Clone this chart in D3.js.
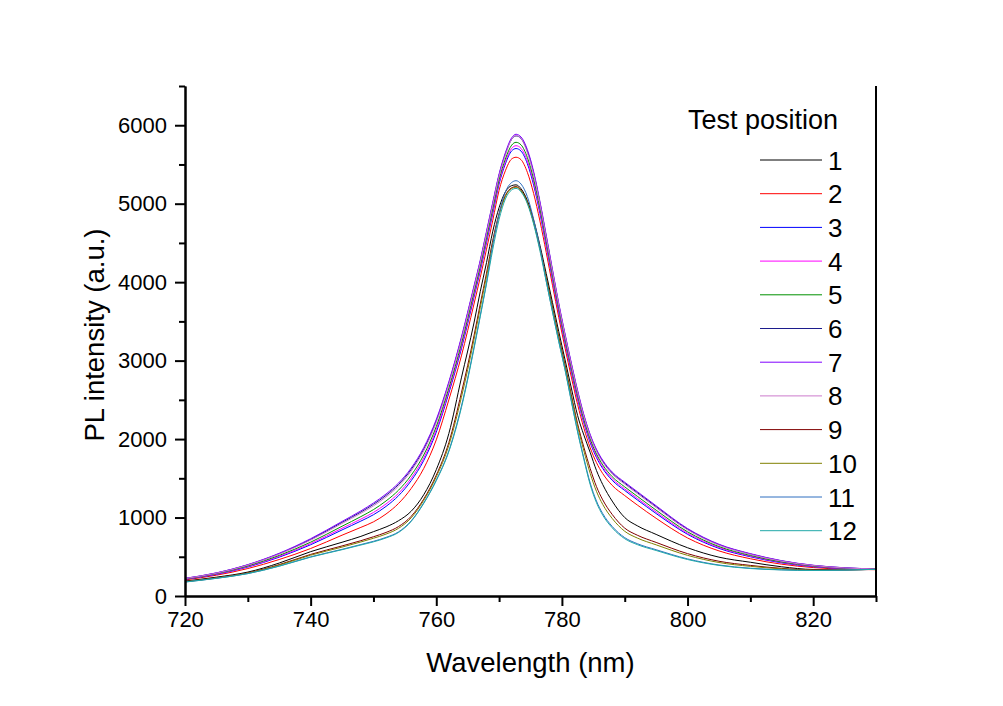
<!DOCTYPE html>
<html>
<head>
<meta charset="utf-8">
<script src="https://cdn.jsdelivr.net/npm/d3@7"></script>
<style>
  body { margin: 0; background: #fff; }
  svg { display: block; }
  text { font-family: "Liberation Sans", Arial, sans-serif; fill: #000; }
</style>
</head>
<body>
<script>
var svg_width = 1003;
var svg_height = 706;

// wavelength grid (nm)
var wavelength = [720,725,730,735,740,745,748,750,752,754,756,758,760,762,764,766,767,768,769,770,771,772,772.7,773.5,774.5,775.5,776.5,777.5,778.5,779.5,780.5,781.5,782.5,783.5,784.5,785.5,786.5,788,790,792,795,800,805,810,815,820,825,830];

// PL intensity for each test position
var pos1 = [190,240,305,420,565,685,760,820,880,960,1080,1290,1610,2070,2780,3480,3880,4250,4650,4950,5150,5230,5240,5190,5040,4790,4470,4110,3740,3370,3010,2650,2300,2050,1830,1600,1420,1210,1000,895,785,615,495,430,372,338,335,340];
var pos2 = [205,265,350,465,605,775,875,945,1045,1180,1370,1625,1990,2500,3060,3720,4060,4420,4790,5170,5420,5570,5592,5560,5400,5130,4780,4380,3960,3550,3160,2790,2440,2140,1890,1700,1560,1410,1280,1160,990,740,575,475,405,362,342,335];
var pos3 = [213,276,369,495,653,842,955,1036,1142,1279,1469,1726,2089,2587,3151,3807,4144,4507,4877,5250,5507,5673,5703,5670,5510,5236,4875,4464,4036,3618,3228,2858,2508,2205,1955,1765,1625,1475,1345,1225,1051,786,607,500,422,373,349,339];
var pos4 = [215,280,375,505,668,863,980,1065,1173,1310,1500,1758,2120,2615,3180,3835,4170,4535,4905,5275,5535,5705,5739,5705,5545,5270,4905,4490,4060,3640,3250,2880,2530,2225,1975,1785,1645,1495,1365,1245,1070,800,618,508,428,377,351,340];
var pos5 = [218,285,383,517,686,889,1012,1101,1211,1349,1539,1797,2159,2650,3216,3870,4203,4570,4940,5307,5570,5746,5782,5749,5589,5312,4943,4523,4090,3667,3277,2907,2557,2251,2001,1811,1671,1521,1391,1271,1094,818,630,517,434,382,354,342];
var pos6 = [224,293,397,539,721,938,1070,1168,1282,1422,1612,1871,2232,2714,3283,3934,4265,4634,5004,5365,5634,5821,5864,5830,5670,5390,5013,4585,4146,3717,3327,2957,2607,2298,2048,1858,1718,1568,1438,1318,1139,852,654,535,447,390,359,344];
var pos7 = [225,295,400,545,730,950,1085,1185,1300,1440,1630,1890,2250,2730,3300,3950,4280,4650,5020,5380,5650,5840,5885,5850,5690,5410,5030,4600,4160,3730,3340,2970,2620,2310,2060,1870,1730,1580,1450,1330,1150,860,660,540,450,392,360,345];
var pos8 = [222,290,393,533,711,924,1054,1149,1262,1401,1591,1850,2211,2696,3264,3916,4247,4616,4986,5349,5616,5820,5870,5830,5647,5368,4993,4567,4130,3703,3313,2943,2593,2285,2035,1845,1705,1555,1425,1305,1126,842,647,530,443,388,357,344];
var pos9 = [184,232,295,400,530,638,705,755,810,885,1015,1235,1540,1955,2590,3315,3720,4115,4535,4875,5105,5203,5218,5170,5020,4765,4435,4060,3680,3305,2945,2565,2195,1895,1625,1395,1225,1040,865,775,683,540,443,390,352,332,333,340];
var pos10 = [182,230,292,394,520,623,689,736,789,863,996,1219,1519,1921,2533,3266,3672,4075,4501,4853,5092,5194,5211,5164,5014,4758,4425,4045,3662,3286,2926,2540,2164,1849,1564,1334,1167,989,825,739,652,518,427,378,346,330,332,340];
var pos11 = [179,226,286,382,499,595,656,697,747,818,957,1186,1477,1852,2419,3167,3576,3994,4480,4870,5150,5270,5293,5250,5090,4800,4440,4015,3626,3247,2887,2489,2101,1756,1441,1211,1050,887,744,667,590,473,395,354,334,326,330,340];
var pos12 = [178,225,285,380,495,590,650,690,740,810,950,1180,1470,1840,2400,3150,3560,3980,4420,4800,5060,5175,5195,5150,5000,4740,4400,4010,3620,3240,2880,2480,2090,1740,1420,1190,1030,870,730,655,580,465,390,350,332,325,330,340];

var seriesNames = ["1","2","3","4","5","6","7","8","9","10","11","12"];
var seriesValues = [pos1,pos2,pos3,pos4,pos5,pos6,pos7,pos8,pos9,pos10,pos11,pos12];
var seriesColors = ["#000000","#ff0000","#0000ff","#ff00ff","#009000","#1c1c8c","#8000ff","#cc7acc","#800000","#808000","#2f6fc0","#20a8a8"];

var xMajor = [720,740,760,780,800,820];
var xMinor = [730,750,770,790,810,830];
var yMajor = [0,1000,2000,3000,4000,5000,6000];
var yMinor = [500,1500,2500,3500,4500,5500,6500];

var plot = { left: 185, right: 876, top: 86, bottom: 596 };

var svg = d3.select("body")
  .append("svg")
  .attr("width", svg_width)
  .attr("height", svg_height);

var xScale = d3.scaleLinear().domain([720, 830]).range([plot.left, plot.right]);
var yScale = d3.scaleLinear().domain([0, 6500]).range([plot.bottom, plot.top]);

// curves
var line = d3.line()
  .x(function(d) { return xScale(d[0]); })
  .y(function(d) { return yScale(d[1]); })
  .curve(d3.curveMonotoneX);

var curveGroup = svg.append("g");
seriesValues.forEach(function(vals, i) {
  var pts = wavelength.map(function(w, j) { return [w, vals[j]]; });
  curveGroup.append("path")
    .datum(pts)
    .attr("fill", "none")
    .attr("stroke", seriesColors[i])
    .attr("stroke-width", 1)
    .attr("d", line);
});

// axes
function styleAxis(g) {
  g.selectAll("path").attr("stroke", "#000").attr("stroke-width", 2);
  g.selectAll("line").attr("stroke", "#000").attr("stroke-width", 2);
  g.selectAll("text")
    .style("font-size", "22px")
    .style("font-family", "'Liberation Sans', Arial, sans-serif");
}

svg.append("g")
  .attr("transform", `translate(0, ${plot.bottom})`)
  .call(d3.axisBottom(xScale).tickValues(xMinor).tickSize(6).tickSizeOuter(0).tickFormat(""))
  .call(styleAxis);

svg.append("g")
  .attr("transform", `translate(0, ${plot.bottom})`)
  .call(d3.axisBottom(xScale).tickValues(xMajor).tickSize(10).tickSizeOuter(0).tickPadding(5).tickFormat(d3.format("d")))
  .call(styleAxis);

svg.append("g")
  .attr("transform", `translate(${plot.left}, 0)`)
  .call(d3.axisLeft(yScale).tickValues(yMinor).tickSize(6).tickSizeOuter(0).tickFormat(""))
  .call(styleAxis);

svg.append("g")
  .attr("transform", `translate(${plot.left}, 0)`)
  .call(d3.axisLeft(yScale).tickValues(yMajor).tickSize(10).tickSizeOuter(0).tickPadding(8).tickFormat(d3.format("d")))
  .call(styleAxis);

// right frame line
svg.append("line")
  .attr("x1", plot.right).attr("x2", plot.right)
  .attr("y1", plot.top).attr("y2", plot.bottom)
  .attr("stroke", "#000")
  .attr("stroke-width", 2);

// axis titles
svg.append("text")
  .attr("x", (plot.left + plot.right) / 2)
  .attr("y", 672)
  .attr("text-anchor", "middle")
  .style("font-size", "27.5px")
  .text("Wavelength (nm)");

svg.append("text")
  .attr("transform", "translate(104, 335) rotate(-90)")
  .attr("text-anchor", "middle")
  .style("font-size", "27.5px")
  .text("PL intensity (a.u.)");

// legend
var legend = svg.append("g");
legend.append("text")
  .attr("x", 688)
  .attr("y", 129)
  .style("font-size", "27px")
  .text("Test position");

seriesNames.forEach(function(name, i) {
  var ly = 160 + i * 33.7;
  legend.append("line")
    .attr("x1", 760).attr("x2", 822)
    .attr("y1", ly).attr("y2", ly)
    .attr("stroke", seriesColors[i])
    .attr("stroke-width", 1);
  legend.append("text")
    .attr("x", 828)
    .attr("y", ly + 9.5)
    .style("font-size", "26px")
    .text(name);
});
</script>
</body>
</html>
